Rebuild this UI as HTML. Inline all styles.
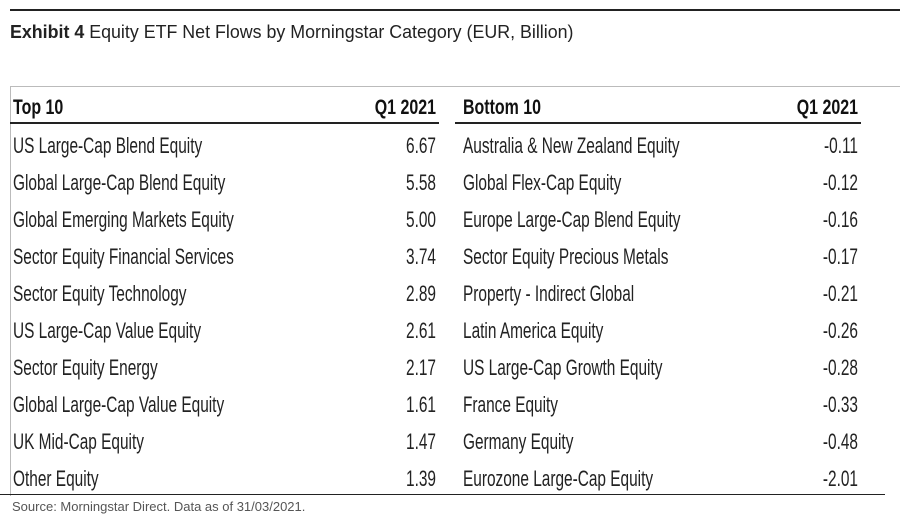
<!DOCTYPE html>
<html><head><meta charset="utf-8"><style>
body{margin:0;width:900px;height:517px;background:#fff;position:relative;overflow:hidden;font-family:"Liberation Sans",sans-serif;color:#222}
.a{position:absolute;white-space:nowrap}
.r{text-align:right}
.t{font-size:22px;line-height:37px}
.h{font-size:21px;font-weight:bold;color:#111;line-height:24px}
.sl{transform:scaleX(0.70);transform-origin:left top}
.sr{transform:scaleX(0.70);transform-origin:right top}
.hl{transform:scaleX(0.76);transform-origin:left top}
.hr{transform:scaleX(0.76);transform-origin:right top}
</style></head><body>
<div class="a" style="left:10px;top:9px;width:890px;height:2px;background:#222"></div>
<div class="a" style="left:10px;top:21px;font-size:18px;line-height:22px;transform:scaleX(0.99);transform-origin:left top"><b>Exhibit 4</b> Equity ETF Net Flows by Morningstar Category (EUR, Billion)</div>
<div class="a" style="left:10px;top:86px;width:890px;height:1px;background:#bbb"></div>
<div class="a" style="left:10px;top:86px;width:1px;height:410px;background:#bbb"></div>
<div class="a h hl" style="left:13px;top:96px">Top 10</div>
<div class="a h r hr" style="left:336px;width:100px;top:96px">Q1 2021</div>
<div class="a h hl" style="left:463px;top:96px">Bottom 10</div>
<div class="a h r hr" style="left:758px;width:100px;top:96px">Q1 2021</div>
<div class="a" style="left:10px;top:122px;width:429px;height:2px;background:#222"></div>
<div class="a" style="left:455px;top:122px;width:406px;height:2px;background:#222"></div>
<div class="a t sl" style="left:13px;top:127px">US Large-Cap Blend Equity<br>Global Large-Cap Blend Equity<br>Global Emerging Markets Equity<br>Sector Equity Financial Services<br>Sector Equity Technology<br>US Large-Cap Value Equity<br>Sector Equity Energy<br>Global Large-Cap Value Equity<br>UK Mid-Cap Equity<br>Other Equity</div>
<div class="a t r sr" style="left:336px;width:100px;top:127px">6.67<br>5.58<br>5.00<br>3.74<br>2.89<br>2.61<br>2.17<br>1.61<br>1.47<br>1.39</div>
<div class="a t sl" style="left:463px;top:127px">Australia &amp; New Zealand Equity<br>Global Flex-Cap Equity<br>Europe Large-Cap Blend Equity<br>Sector Equity Precious Metals<br>Property - Indirect Global<br>Latin America Equity<br>US Large-Cap Growth Equity<br>France Equity<br>Germany Equity<br>Eurozone Large-Cap Equity</div>
<div class="a t r sr" style="left:758px;width:100px;top:127px">-0.11<br>-0.12<br>-0.16<br>-0.17<br>-0.21<br>-0.26<br>-0.28<br>-0.33<br>-0.48<br>-2.01</div>
<div class="a" style="left:0px;top:494px;width:885px;height:1px;background:#222"></div>
<div class="a" style="left:12px;top:499px;font-size:13px;color:#555">Source: Morningstar Direct. Data as of 31/03/2021.</div>
</body></html>
